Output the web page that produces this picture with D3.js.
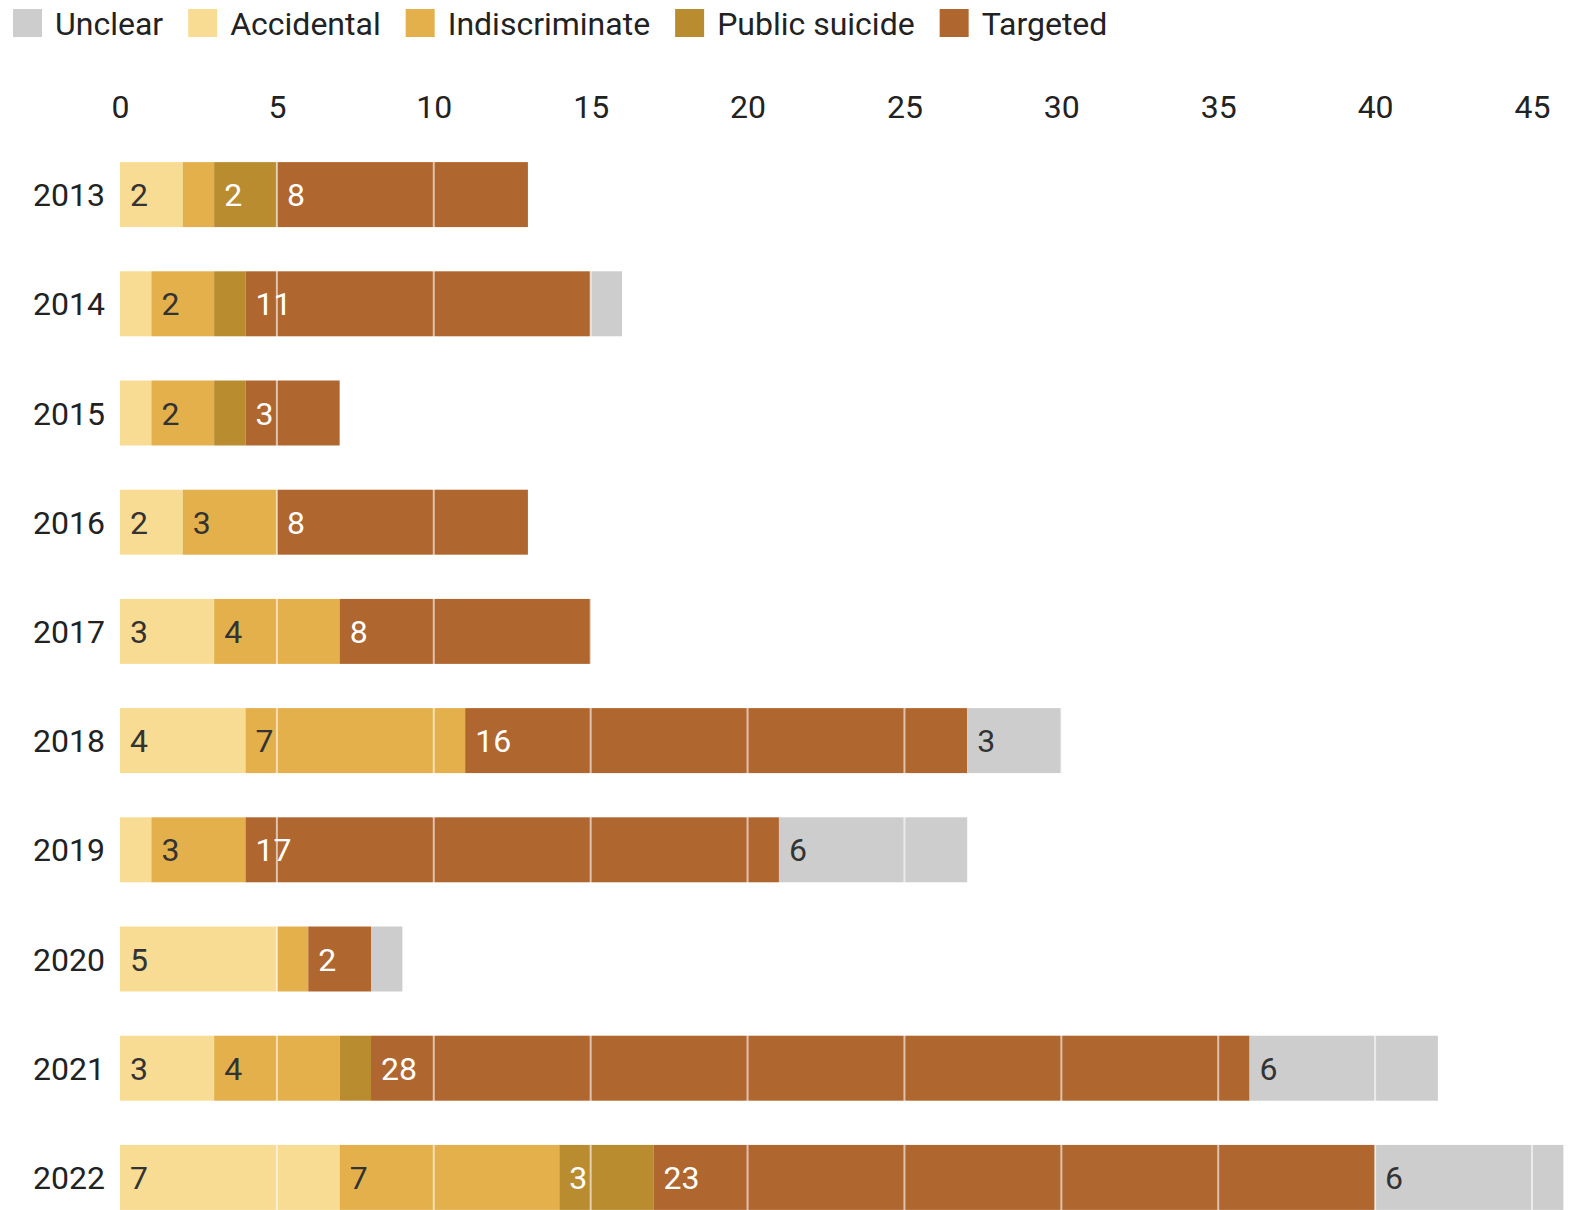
<!DOCTYPE html>
<html>
<head>
<meta charset="utf-8">
<script src="https://cdn.jsdelivr.net/npm/d3@7"></script>
<style>
  body { margin: 0; background: #fff; }
  svg { display: block; font-family: Roboto, "Liberation Sans", sans-serif; }
</style>
</head>
<body>
<div id="chart"></div>
<script>
// data
var years = ["2013", "2014", "2015", "2016", "2017", "2018", "2019", "2020", "2021", "2022"];
var accidental     = [2, 1, 1, 2, 3, 4, 1, 5, 3, 7];
var indiscriminate = [1, 2, 2, 3, 4, 7, 3, 1, 4, 7];
var publicSuicide  = [2, 1, 1, 0, 0, 0, 0, 0, 1, 3];
var targeted       = [8, 11, 3, 8, 8, 16, 17, 2, 28, 23];
var unclear        = [0, 1, 0, 0, 0, 3, 6, 1, 6, 6];
var xTicks = [0, 5, 10, 15, 20, 25, 30, 35, 40, 45];

var series = [
    {key: "Accidental", values: accidental, color: "#f8dc93", text: "#333"},
    {key: "Indiscriminate", values: indiscriminate, color: "#e3b04b", text: "#333"},
    {key: "Public suicide", values: publicSuicide, color: "#b98c30", text: "#fff"},
    {key: "Targeted", values: targeted, color: "#b0662f", text: "#fff"},
    {key: "Unclear", values: unclear, color: "#cdcdcd", text: "#333"}
];
var legendOrder = ["Unclear", "Accidental", "Indiscriminate", "Public suicide", "Targeted"];

var width = 1570, height = 1210;

var svg = d3.select("#chart")
    .append("svg")
    .attr("width", width)
    .attr("height", height);

var xScale = d3.scaleLinear().domain([0, 45]).range([120, 1532]);
var yScale = d3.scaleBand().domain(years).range([140, 140 + 10 * 109.2])
    .paddingInner(0.405).paddingOuter(0.2025);

// stack the segments
var rows = years.map(function(y, i) {
    var x0 = 0;
    return series.map(function(s) {
        var seg = {year: y, key: s.key, v: s.values[i], x0: x0, x1: x0 + s.values[i], color: s.color, text: s.text};
        x0 += s.values[i];
        return seg;
    });
});
var segs = [].concat.apply([], rows);

svg.append("g")
    .selectAll("rect")
    .data(segs.filter(function(d) { return d.v > 0; }))
    .enter()
    .append("rect")
    .attr("x", function(d) { return xScale(d.x0); })
    .attr("y", function(d) { return yScale(d.year); })
    .attr("width", function(d) { return xScale(d.x1) - xScale(d.x0); })
    .attr("height", yScale.bandwidth())
    .style("fill", function(d) { return d.color; });

// white grid lines over the bars
svg.append("g")
    .selectAll("line")
    .data(xTicks.slice(1))
    .enter()
    .append("line")
    .attr("x1", function(d) { return xScale(d); })
    .attr("x2", function(d) { return xScale(d); })
    .attr("y1", yScale.range()[0])
    .attr("y2", height)
    .style("stroke", "rgba(255,255,255,0.6)")
    .style("stroke-width", 2);

// value labels
svg.append("g")
    .selectAll("text")
    .data(segs.filter(function(d) { return d.v >= 2; }))
    .enter()
    .append("text")
    .attr("x", function(d) { return xScale(d.x0) + 10; })
    .attr("y", function(d) { return yScale(d.year) + yScale.bandwidth() / 2; })
    .attr("dy", "0.36em")
    .style("font-size", "32px")
    .style("fill", function(d) { return d.text; })
    .text(function(d) { return d.v; });

// year labels
svg.append("g")
    .selectAll("text")
    .data(years)
    .enter()
    .append("text")
    .attr("x", 105)
    .attr("y", function(d) { return yScale(d) + yScale.bandwidth() / 2; })
    .attr("dy", "0.36em")
    .attr("text-anchor", "end")
    .style("font-size", "32px")
    .style("fill", "#222")
    .text(function(d) { return d; });

// top axis
var axis = svg.append("g")
    .attr("transform", "translate(0,121)")
    .call(d3.axisTop(xScale).tickValues(xTicks).tickSize(0).tickPadding(3));
axis.select(".domain").remove();
axis.selectAll("text")
    .style("font-size", "32px")
    .style("font-family", "Roboto, 'Liberation Sans', sans-serif")
    .style("fill", "#222");

// legend
var lx = 13;
legendOrder.forEach(function(k) {
    var s = series.filter(function(d) { return d.key === k; })[0];
    svg.append("rect")
        .attr("x", lx).attr("y", 9)
        .attr("width", 29).attr("height", 28)
        .style("fill", s.color);
    var t = svg.append("text")
        .attr("x", lx + 42).attr("y", 23)
        .attr("dy", "0.36em")
        .style("font-size", "32px")
        .style("fill", "#222")
        .text(k);
    lx += 42 + t.node().getComputedTextLength() + 25;
});
</script>
</body>
</html>
